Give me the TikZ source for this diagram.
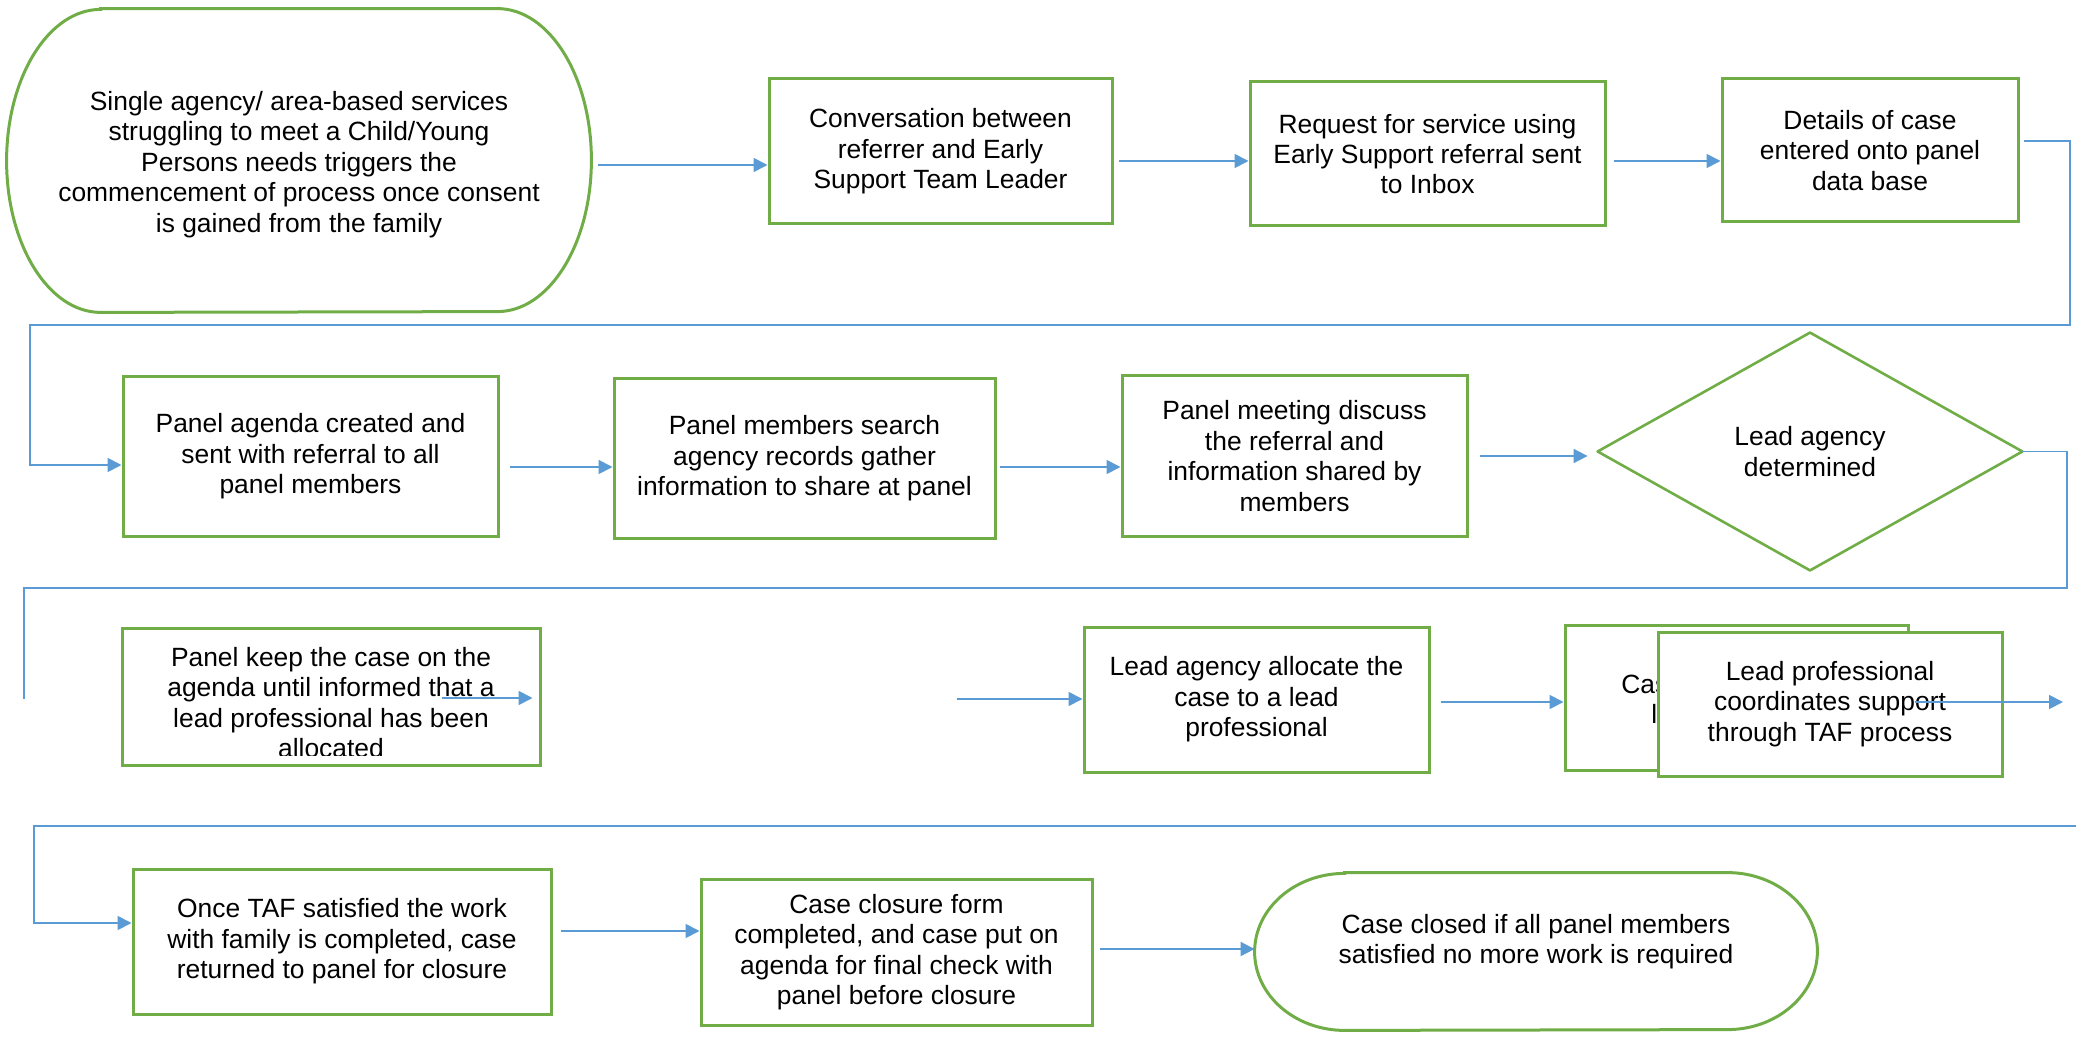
\documentclass[tikz,border=0pt]{standalone}
\usepackage{fontspec}
\setmainfont{Liberation Sans}
\usetikzlibrary{arrows.meta,calc}
\definecolor{boxgreen}{HTML}{70AD47}
\definecolor{linkblue}{HTML}{5B9BD5}
\tikzset{
  txt/.style={font=\fontsize{13.2pt}{15.2pt}\selectfont, align=center, inner sep=0pt, text=black},
  stepbox/.style={draw=boxgreen, line width=1.5pt, fill=white, rectangle, inner sep=0pt, txt},
  plain/.style={rectangle, draw=none, inner sep=0pt, txt},
  outline/.style={draw=boxgreen, line width=1.5pt},
  link/.style={draw=linkblue, line width=0.9pt},
  arr/.style={link, -{Triangle[length=7pt,width=7pt]}},
}
\begin{document}
\begin{tikzpicture}[x=0.5pt,y=-0.5pt]
\useasboundingbox (0,0) rectangle (2082,1037);

% ---------- row 1 ----------
\node[plain, minimum width=292pt, minimum height=151.5pt] (start) at (299,160.5) {};
\node[txt] (startt) at ($(start.center)+(0,4)$)
  {Single agency/ area-based services\\struggling to meet a Child/Young\\Persons needs triggers the\\commencement of process once consent\\is gained from the family};
\draw[outline] ([xshift=47pt]start.north west) -- ([xshift=-47pt]start.north east)
  arc[start angle=90,end angle=-90,x radius=47pt,y radius=75.75pt]
  -- ([xshift=47pt]start.south west)
  arc[start angle=270,end angle=90,x radius=47pt,y radius=75.75pt] -- cycle;

\node[stepbox, minimum width=171.5pt, minimum height=72.5pt] (B2) at (940.5,151.5)
  {Conversation between\\referrer and Early\\Support Team Leader};
\node[stepbox, minimum width=177.5pt, minimum height=72pt] (B3) at (1427.5,154)
  {Request for service using\\Early Support referral sent\\to Inbox};
\node[stepbox, minimum width=148pt, minimum height=71.5pt] (B4) at (1870,150.5)
  {Details of case\\entered onto panel\\data base};

% ---------- row 2 ----------
\node[stepbox, minimum width=187.5pt, minimum height=79.5pt] (B5) at (310.5,456.5)
  {Panel agenda created and\\sent with referral to all\\panel members};
\node[stepbox, minimum width=190.5pt, minimum height=79.5pt] (B6) at (804.5,458.5)
  {Panel members search\\agency records gather\\information to share at panel};
\node[stepbox, minimum width=172.5pt, minimum height=80pt] (B7) at (1294.5,456)
  {Panel meeting discuss\\the referral and\\information shared by\\members};
\node[plain, minimum width=212pt, minimum height=118.5pt] (D) at (1810,451.5)
  {Lead agency\\determined};
\draw[draw=boxgreen, line width=1.3pt, line join=round] (D.west) -- (D.north) -- (D.east) -- (D.south) -- cycle;

% ---------- row 3 ----------
\node[stepbox, minimum width=209pt, minimum height=68.5pt] (B8) at (331,696.5) {};
\begin{scope}
  \clip (B8.north west) rectangle ($(B8.south east)+(0,-11)$);
  \node[txt] (B8t) at ($(B8.center)+(0,6)$)
    {Panel keep the case on the\\agenda until informed that a\\lead professional has been\\allocated};
\end{scope}
\node[stepbox, minimum width=172.5pt, minimum height=72.5pt] (B9) at (1256.5,699.5)
  {Lead agency allocate the\\case to a lead\\professional};
\node[stepbox, minimum width=171.5pt, minimum height=72.5pt] (BK) at (1736.5,697.5) {};
\node[txt, anchor=base west] (BKa) at (1621,693) {Cas};
\node[txt, anchor=base west] (BKb) at (1651,723) {l};
\node[stepbox, minimum width=172pt, minimum height=72pt] (F) at (1830,704)
  {Lead professional\\coordinates support\\through TAF process};

% ---------- row 4 ----------
\node[stepbox, minimum width=209pt, minimum height=72.5pt] (B11) at (342,941.5)
  {Once TAF satisfied the work\\with family is completed, case\\returned to panel for closure};
\node[stepbox, minimum width=195.5pt, minimum height=73pt] (B12) at (896.5,952)
  {Case closure form\\completed, and case put on\\agenda for final check with\\panel before closure};
\node[plain, minimum width=281pt, minimum height=78.5pt] (End) at (1536,951.5) {};
\node[txt] (Endt) at ($(End.center)+(0,-10)$)
  {Case closed if all panel members\\satisfied no more work is required};
\draw[outline] ([xshift=45pt]End.north west) -- ([xshift=-45pt]End.north east)
  arc[start angle=90,end angle=-90,x radius=45pt,y radius=39.25pt]
  -- ([xshift=45pt]End.south west)
  arc[start angle=270,end angle=90,x radius=45pt,y radius=39.25pt] -- cycle;

% ---------- connectors ----------
\draw[arr] ($(start.east |- 0,165)+(7,0)$) -- (B2.west |- 0,165);
\draw[arr] ($(B2.east |- 0,161)+(5,0)$) -- (B3.west |- 0,161);
\draw[arr] ($(B3.east |- 0,161)+(7,0)$) -- (B4.west |- 0,161);
\draw[arr] ($(B4.east |- 0,141)+(4,0)$) -- (2070,141) |- (30,325) |- (B5.west |- 0,465);

\draw[arr] ($(B5.east |- 0,467)+(10,0)$) -- (B6.west |- 0,467);
\draw[arr] ($(B6.east |- 0,467)+(3,0)$) -- (B7.west |- 0,467);
\draw[arr] ($(B7.east |- 0,456)+(11,0)$) -- ($(D.west |- 0,456)+(-10,0)$);
\coordinate (e1) at (24,699);
\draw[link] (D.east) -- (2067,451.5) |- (24,588) -- (e1);

\draw[arr] ($(B8.east |- 0,698)+(-100,0)$) -- ($(B8.east |- 0,698)+(-9,0)$);
\coordinate (e2) at (957,699);
\draw[arr] (e2) -- (B9.west |- 0,699);
\draw[arr] ($(B9.east |- 0,702)+(10,0)$) -- (BK.west |- 0,702);
\coordinate (e3) at (2063,702);
\draw[arr] ($(F.east |- 0,702)+(-89,0)$) -- (e3);

\coordinate (e4) at (2076,826);
\draw[arr] (e4) -- (34,826) |- (B11.west |- 0,923);
\draw[arr] ($(B11.east |- 0,931)+(8,0)$) -- (B12.west |- 0,931);
\draw[arr] ($(B12.east |- 0,949)+(6,0)$) -- (End.west |- 0,949);
\end{tikzpicture}
\end{document}
